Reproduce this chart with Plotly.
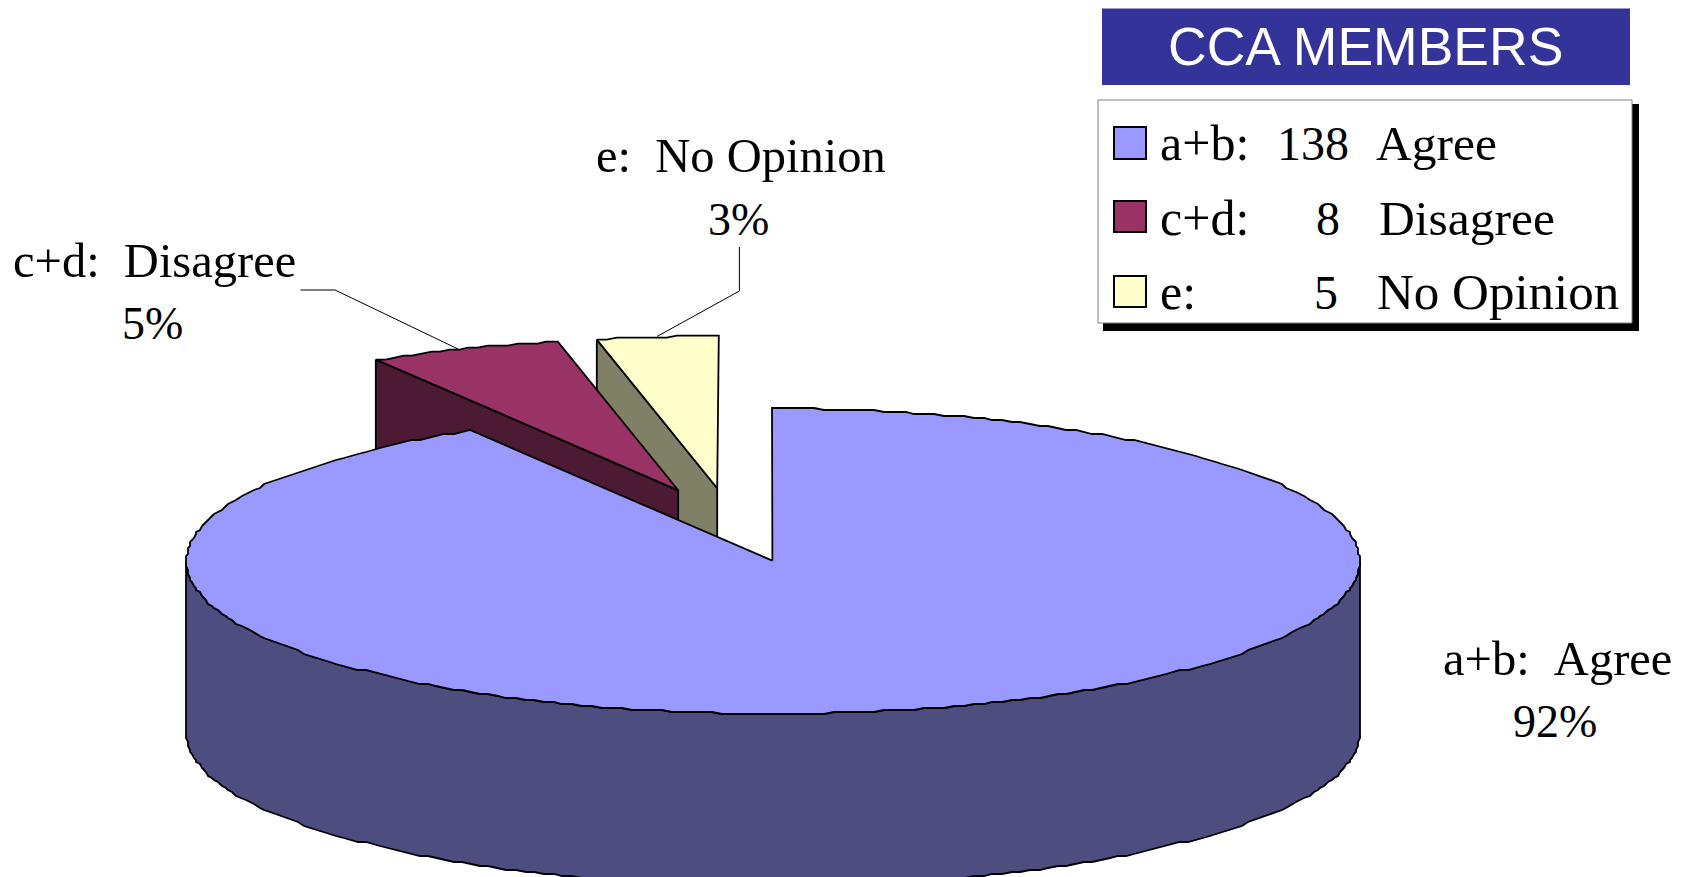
import numpy as np
import plotly.graph_objects as go

# ---- data ----
codes = ["a+b:", "c+d:", "e:"]
counts = [138, 8, 5]
opinions = ["Agree", "Disagree", "No Opinion"]
percent_labels = ["92%", "5%", "3%"]

# ---- styles / layout ----
W, H = 1683, 877
TOP = ["#9999FF", "#993366", "#FFFFCC"]
SIDE = ["#4D4D80", "#4D1A33", "#808066"]
SERIF = "Liberation Serif"
CX, CY, A, B, DEPTH = 773.0, 561.2, 586.8, 152.6, 172
APEX_X, APEX_Y = 772.4, 560.7
OFFSETS = [(0, 0), (-94.2, -70.4), (-55.2, -72.4)]
RIM_STEP = 2.0  # the reference outline is slightly stepped, as from a coarse source raster

total = sum(counts)
sweeps = [360 * c / total for c in counts]
starts = np.cumsum([0] + sweeps[:-1])


def rim(t_deg, ox=0, oy=0):
    t = np.radians(t_deg)
    x = CX + A * np.sin(t)
    y = CY - B * np.cos(t)
    return np.round(x / RIM_STEP) * RIM_STEP + ox, np.round(y / RIM_STEP) * RIM_STEP + oy


def poly(fig, xs, ys, color, name):
    fig.add_trace(go.Scatter(
        x=list(xs), y=list(ys), mode="lines", fill="toself", fillcolor=color,
        line=dict(color="black", width=1.8), hoverinfo="skip", name=name, showlegend=False,
    ))


def arc(a0, a1):
    inner = np.arange(np.ceil(a0), np.floor(a1) + 1)
    return np.unique(np.r_[a0, inner, a1])


def slice_top(i):
    ox, oy = OFFSETS[i]
    x, y = rim(arc(starts[i], starts[i] + sweeps[i]), ox, oy)
    ax, ay = APEX_X + ox, APEX_Y + oy
    return np.r_[ax, x, ax], np.r_[ay, y, ay]


def slice_wall(i):
    ox, oy = OFFSETS[i]
    rx, ry = rim(starts[i], ox, oy)
    ax, ay = APEX_X + ox, APEX_Y + oy
    return [rx, ax, ax, rx, rx], [ry, ay, ay + DEPTH, ry + DEPTH, ry]


fig = go.Figure()
# exploded slices, back to front
for i in (2, 1):
    wx, wy = slice_wall(i)
    poly(fig, wx, wy, SIDE[i], codes[i] + " wall")
    tx, ty = slice_top(i)
    poly(fig, tx, ty, TOP[i], codes[i] + " top")

# main body: outer wall, then top
x, y = rim(arc(90, 270))
poly(fig, np.r_[x, x[::-1], x[0]], np.r_[y, y[::-1] + DEPTH, y[0]], SIDE[0], "a+b wall")
tx, ty = slice_top(0)
poly(fig, tx, ty, TOP[0], "a+b top")

# leader lines
for lx, ly in (([300.5, 335, 458], [290, 290, 349]), ([739.4, 739.4, 657], [247, 291, 336.5])):
    fig.add_trace(go.Scatter(x=lx, y=ly, mode="lines", line=dict(color="black", width=1),
                             hoverinfo="skip", showlegend=False))


def text(x, y, s, size=48, anchor="center", color="black", family=SERIF):
    fig.add_annotation(x=x, y=y, text=s, showarrow=False, xanchor=anchor, yanchor="middle",
                       xref="x", yref="y", font=dict(family=family, size=size, color=color))


# data labels: (name x, name y, percent x, percent y)
label_pos = [(1557, 658, 1555, 721), (154.5, 260, 152.5, 323), (741, 155, 738, 219)]
for i, (lx, y1, px, y2) in enumerate(label_pos):
    text(lx, y1, f"{codes[i]}\u00a0\u00a0{opinions[i]}", size=48.5)
    text(px, y2, percent_labels[i], size=46)

shapes = [
    dict(type="rect", x0=1102, x1=1630, y0=8.6, y1=85, fillcolor="#333399", line_width=0),
    dict(type="rect", x0=1103, x1=1639, y0=104, y1=331, fillcolor="black", line_width=0),
    dict(type="rect", x0=1098, x1=1632, y0=100, y1=323, fillcolor="white",
         line=dict(color="#808080", width=1)),
]
swatch_rows = [(127, 159), (201, 232), (276, 307)]
for (y0, y1), c in zip(swatch_rows, TOP):
    shapes.append(dict(type="rect", x0=1114, x1=1146, y0=y0, y1=y1, fillcolor=c,
                       line=dict(color="black", width=2)))

text(1365.5, 46, "CCA MEMBERS", size=53.5, color="white", family="Liberation Sans")
row_y = [143, 218, 292]
num_x = [1351, 1342, 1340]
op_x = [1374, 1377, 1375]
op_size = [49.5, 49.5, 51]
for i, ry in enumerate(row_y):
    text(1158, ry, codes[i], size=50, anchor="left")
    text(num_x[i], ry, str(counts[i]), size=48, anchor="right")
    text(op_x[i], ry, opinions[i], size=op_size[i], anchor="left")

fig.update_layout(
    width=W, height=H, margin=dict(l=0, r=0, t=0, b=0), autosize=False,
    paper_bgcolor="white", plot_bgcolor="white", showlegend=False, shapes=shapes,
    xaxis=dict(range=[0, W], visible=False, fixedrange=True),
    yaxis=dict(range=[H, 0], visible=False, fixedrange=True),
)
fig.write_html("out.html", config={"displayModeBar": False, "responsive": False},
               post_script="document.body.style.margin='0';document.body.style.overflow='hidden';")
